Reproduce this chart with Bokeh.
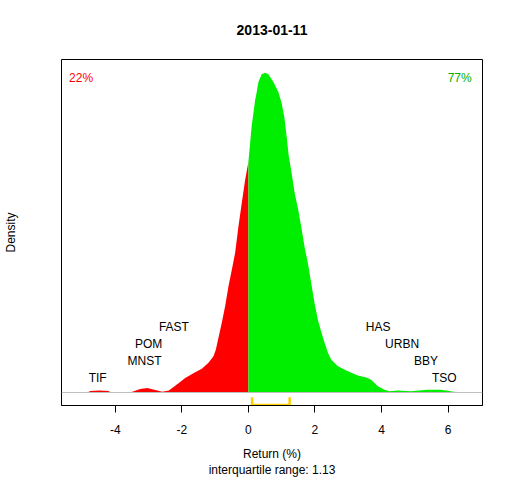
from bokeh.plotting import figure
from bokeh.models import Label, Span, FixedTicker, Range1d, LinearAxis
from bokeh.core.properties import value
from bokeh.embed import file_html
from bokeh.resources import INLINE

# ---- data ----
title_text = "2013-01-11"
ret_x = [-4.84, -4.75, -4.48, -4.21, -4.12, -3.58, -3.49, -3.25, -3.04, -2.83,
         -2.59, -2.39, -2.09, -1.90, -1.60, -1.40, -1.20, -1.05, -0.98, -0.90,
         -0.80, -0.70, -0.60, -0.50, -0.40, -0.30, -0.20, -0.10, 0.00, 0.05,
         0.10, 0.15, 0.20, 0.25, 0.30, 0.40, 0.50, 0.60, 0.75, 0.90,
         1.00, 1.08, 1.15, 1.21, 1.30, 1.39, 1.50, 1.59, 1.69, 1.79,
         1.89, 1.99, 2.09, 2.19, 2.29, 2.39, 2.49, 2.69, 2.99, 3.29,
         3.54, 3.69, 3.89, 4.09, 4.24, 4.49, 4.88, 5.38, 5.78, 6.18, 6.23]
density = [0.0, 0.002, 0.003, 0.002, 0.0, 0.0, 0.001, 0.005, 0.0065, 0.004,
           0.001, 0.003, 0.0135, 0.0205, 0.0285, 0.0333, 0.0417, 0.0509, 0.060, 0.077,
           0.098, 0.121, 0.149, 0.172, 0.196, 0.233, 0.266, 0.298, 0.324, 0.350,
           0.375, 0.392, 0.410, 0.422, 0.436, 0.447, 0.449, 0.447, 0.436, 0.422,
           0.406, 0.387, 0.359, 0.333, 0.308, 0.280, 0.256, 0.232, 0.204, 0.181,
           0.153, 0.125, 0.102, 0.085, 0.070, 0.056, 0.046, 0.037, 0.030, 0.024,
           0.021, 0.018, 0.009, 0.004, 0.0017, 0.0028, 0.0017, 0.0038, 0.0038, 0.001, 0.0]
pct_neg = 22
pct_pos = 77
q1 = 0.11
q3 = 1.24
iqr_text = "interquartile range: 1.13"
x_title = "Return (%)"
y_title = "Density"
stock_names = ["TIF", "MNST", "POM", "FAST", "HAS", "URBN", "BBY", "TSO"]
stock_returns = [-4.53, -3.12, -3.00, -2.24, 3.90, 4.62, 5.34, 5.89]
stock_levels = [1, 2, 3, 4, 4, 3, 2, 1]
x_ticks = [-4, -2, 0, 2, 4, 6]
x_tick_labels = ["-4", "-2", "0", "2", "4", "6"]

FONT = "Liberation Sans"
RED = "#FF0000"
GREEN = "#00EE00"

p = figure(width=504, height=480, output_backend="svg", toolbar_location=None,
           x_range=Range1d(-5.618, 7.036), y_range=Range1d(-0.0182, 0.4676),
           min_border_left=59, min_border_right=22, min_border_top=59,
           min_border_bottom=74)
p.grid.visible = False
p.outline_line_color = "black"
p.outline_line_alpha = 1.0
p.outline_line_width = 1
p.background_fill_color = "white"
p.border_fill_color = "white"

bottom_axis = p.below[0]
left_axis = p.left[0]


def bare_axis(axis, label, standoff, size="12px", style="normal"):
    axis.ticker = FixedTicker(ticks=[])
    axis.axis_line_color = None
    axis.major_tick_line_color = None
    axis.minor_tick_line_color = None
    axis.major_tick_out = 0
    axis.major_tick_in = 0
    axis.major_label_standoff = 0
    axis.axis_label = label
    axis.axis_label_text_font = FONT
    axis.axis_label_text_font_size = size
    axis.axis_label_text_font_style = style
    axis.axis_label_text_color = "black"
    axis.axis_label_standoff = standoff


top_axis = LinearAxis()
bare_axis(top_axis, title_text, 25, size="14px", style="bold")
p.add_layout(top_axis, "above")

ax = bottom_axis
ax.ticker = FixedTicker(ticks=x_ticks)
ax.major_label_overrides = {t: l for t, l in zip(x_ticks, x_tick_labels)}
ax.minor_tick_line_color = None
ax.major_tick_in = 0
ax.major_tick_out = 7
ax.axis_line_color = "black"
ax.major_tick_line_color = "black"
ax.major_label_text_font = FONT
ax.major_label_text_font_size = "12px"
ax.major_label_text_color = "black"
ax.major_label_standoff = 12
ax.axis_label = x_title + "\n" + iqr_text
ax.axis_label_text_font = FONT
ax.axis_label_text_font_size = "12px"
ax.axis_label_text_font_style = "normal"
ax.axis_label_text_color = "black"
ax.axis_label_standoff = 10

bare_axis(left_axis, y_title, 44)

neg_x = [x for x in ret_x if x <= 0]
neg_d = [d for x, d in zip(ret_x, density) if x <= 0]
pos_x = [x for x in ret_x if x >= 0]
pos_d = [d for x, d in zip(ret_x, density) if x >= 0]
p.varea(x=neg_x, y1=[0] * len(neg_x), y2=neg_d, fill_color=RED)
p.varea(x=pos_x, y1=[0] * len(pos_x), y2=pos_d, fill_color=GREEN)

p.add_layout(Span(location=0, dimension="width", line_color="#BEBEBE", line_width=1))

yb, yt = -0.0176, -0.0066
p.line(x=[q1, q1, q3, q3], y=[yt, yb, yb, yt], line_color="#FFD000", line_width=2.5)

step = 0.0238
lab_y = [0.021 + (lv - 1) * step for lv in stock_levels]
p.text(x=stock_returns, y=lab_y, text=stock_names, text_font=value(FONT),
       text_font_size="12px", text_align="center", text_baseline="middle",
       text_color="black")

p.add_layout(Label(x=-5.39, y=0.442, text=f"{pct_neg}%", text_font=FONT,
                   text_font_size="12px", text_color=RED, text_align="left",
                   text_baseline="middle"))
p.add_layout(Label(x=6.71, y=0.442, text=f"{pct_pos}%", text_font=FONT,
                   text_font_size="12px", text_color="#00B000", text_align="right",
                   text_baseline="middle"))

open("out.html", "w").write(file_html(p, INLINE))
